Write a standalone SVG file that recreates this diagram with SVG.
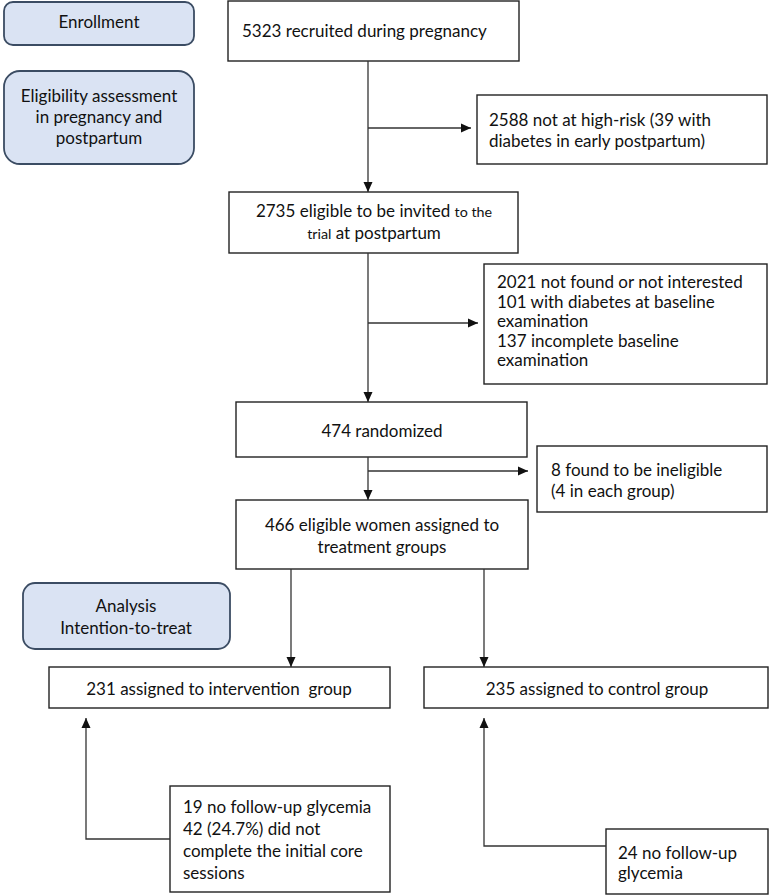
<svg xmlns="http://www.w3.org/2000/svg" width="772" height="895" viewBox="0 0 772 895">
<style>
  text { font-family: Lato, "Open Sans", "Liberation Sans", sans-serif; font-size: 17px; fill: #111; }
  .c { text-anchor: middle; }
  .sm { font-size: 14.3px; }
  .box { fill: #fff; stroke: #222; stroke-width: 1.4; }
  .phase { fill: #dae3f3; stroke: #3b4c63; stroke-width: 1.8; }
  .conn { fill: none; stroke: #333; stroke-width: 1.3; }
</style>
<defs>
  <marker id="arr" markerWidth="10" markerHeight="10" refX="10" refY="5" orient="auto" markerUnits="userSpaceOnUse">
    <path d="M0,0.5 L10,5 L0,9.5 Z" fill="#111"/>
  </marker>
</defs>
<rect width="772" height="895" fill="#fff"/>

<g id="phase-enrollment">
  <rect class="phase" x="4" y="2" width="190" height="43" rx="9"/>
  <text class="c" x="99" y="28">Enrollment</text>
</g>
<g id="phase-eligibility">
  <rect class="phase" x="4" y="71" width="190" height="93" rx="16"/>
  <text class="c" x="99" y="102">Eligibility assessment</text>
  <text class="c" x="99" y="123">in pregnancy and</text>
  <text class="c" x="99" y="144">postpartum</text>
</g>
<g id="phase-analysis">
  <rect class="phase" x="23" y="583" width="207" height="66" rx="12"/>
  <text class="c" x="126" y="612">Analysis</text>
  <text class="c" x="126" y="634">Intention-to-treat</text>
</g>

<g id="recruited">
  <rect class="box" x="228" y="1" width="291" height="60"/>
  <text x="242" y="37">5323 recruited during pregnancy</text>
</g>
<g id="not-high-risk">
  <rect class="box" x="477" y="95" width="290" height="69"/>
  <text x="489" y="126">2588 not at high-risk (39 with</text>
  <text x="489" y="147">diabetes in early postpartum)</text>
</g>
<g id="eligible">
  <rect class="box" x="229" y="192" width="289" height="61"/>
  <text class="c" x="374" y="217">2735 eligible to be invited <tspan class="sm">to the</tspan></text>
  <text class="c" x="374" y="239"><tspan class="sm">trial</tspan> at postpartum</text>
</g>
<g id="excluded">
  <rect class="box" x="484" y="264" width="283" height="120"/>
  <text x="497" y="288">2021 not found or not interested</text>
  <text x="497" y="307.5">101 with diabetes at baseline</text>
  <text x="497" y="327">examination</text>
  <text x="497" y="346.5">137 incomplete baseline</text>
  <text x="497" y="366">examination</text>
</g>
<g id="randomized">
  <rect class="box" x="236" y="402" width="291" height="55"/>
  <text class="c" x="382" y="437">474 randomized</text>
</g>
<g id="ineligible">
  <rect class="box" x="537" y="446" width="230" height="66"/>
  <text x="551" y="476">8 found to be ineligible</text>
  <text x="551" y="497">(4 in each group)</text>
</g>
<g id="assigned">
  <rect class="box" x="236" y="500" width="292" height="69"/>
  <text class="c" x="382" y="531">466 eligible women assigned to</text>
  <text class="c" x="382" y="553">treatment groups</text>
</g>
<g id="intervention">
  <rect class="box" x="49" y="667" width="341" height="41"/>
  <text class="c" x="219" y="695" xml:space="preserve">231 assigned to intervention  group</text>
</g>
<g id="control">
  <rect class="box" x="424" y="667" width="344" height="41"/>
  <text class="c" x="597" y="695">235 assigned to control group</text>
</g>
<g id="intervention-missing">
  <rect class="box" x="170" y="786" width="220" height="106"/>
  <text x="183" y="813">19 no follow-up glycemia</text>
  <text x="183" y="835">42 (24.7%) did not</text>
  <text x="183" y="857">complete the initial core</text>
  <text x="183" y="879">sessions</text>
</g>
<g id="control-missing">
  <rect class="box" x="606" y="829" width="162" height="65"/>
  <text x="618" y="859">24 no follow-up</text>
  <text x="618" y="879">glycemia</text>
</g>

<g id="connectors">
  <line class="conn" x1="368" y1="61" x2="368" y2="192" marker-end="url(#arr)"/>
  <line class="conn" x1="368" y1="128" x2="471" y2="128" marker-end="url(#arr)"/>
  <line class="conn" x1="368" y1="253" x2="368" y2="402" marker-end="url(#arr)"/>
  <line class="conn" x1="368" y1="323" x2="478" y2="323" marker-end="url(#arr)"/>
  <line class="conn" x1="368" y1="457" x2="368" y2="500" marker-end="url(#arr)"/>
  <line class="conn" x1="368" y1="471" x2="528" y2="471" marker-end="url(#arr)"/>
  <line class="conn" x1="291" y1="569" x2="291" y2="667" marker-end="url(#arr)"/>
  <line class="conn" x1="484" y1="569" x2="484" y2="667" marker-end="url(#arr)"/>
  <path class="conn" d="M170,839 H86 V718" marker-end="url(#arr)"/>
  <path class="conn" d="M606,846 H484 V718" marker-end="url(#arr)"/>
</g>
</svg>
